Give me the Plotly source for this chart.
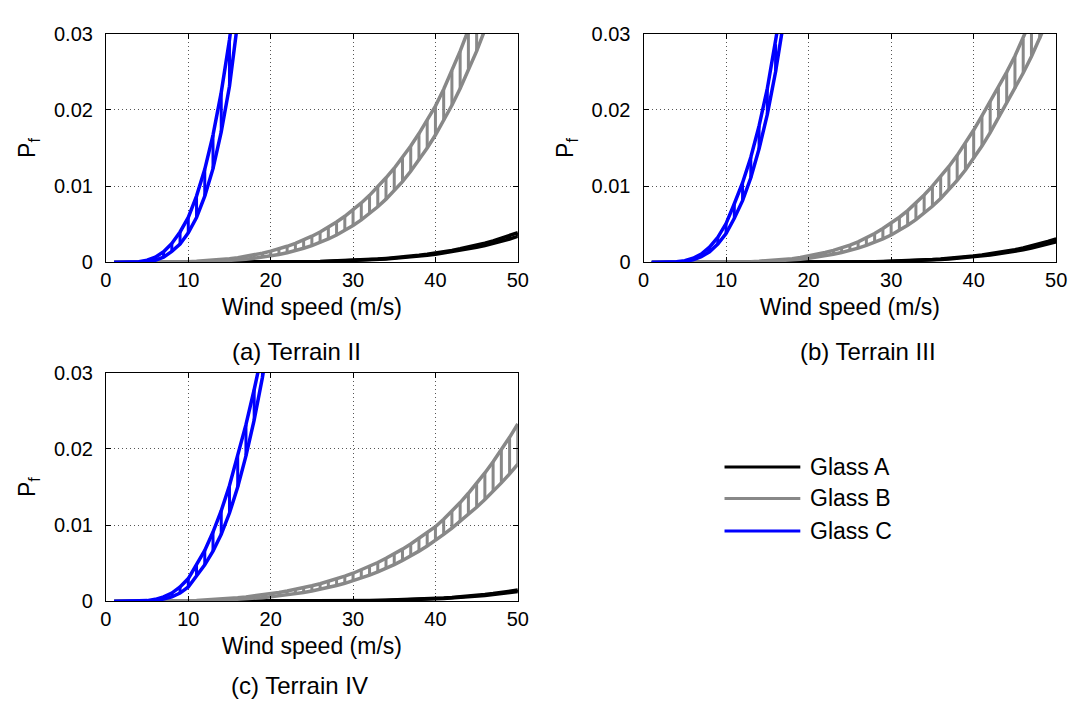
import plotly.graph_objects as go

# ---------------- data ----------------
wind_speed = list(range(1, 51))
x_ticks = [0, 10, 20, 30, 40, 50]
y_ticks = [0, 0.01, 0.02, 0.03]
y_tick_text = ["0", "0.01", "0.02", "0.03"]
panel_captions = ["(a) Terrain II", "(b) Terrain III", "(c) Terrain IV"]
glass_names = ["Glass A", "Glass B", "Glass C"]

# (a) Terrain II  -- upper / lower bound of Pf
a_glassA_hi = [0,0,0,0,0,0,0,0,0,0, 0,0,0,0,0.000005,0.00001,0.00001,0.00002,0.00002,0.00003,
               0.00004,0.00005,0.00006,0.00008,0.00011,0.00013,0.00016,0.00019,0.00023,0.00027,
               0.00032,0.00038,0.00045,0.00053,0.00061,0.00071,0.00082,0.00094,0.00107,0.00122,
               0.0014,0.00158,0.00179,0.00201,0.00225,0.00253,0.00283,0.00315,0.0035,0.0039]
a_glassA_lo = [0,0,0,0,0,0,0,0,0,0, 0,0,0,0,0,0.00001,0.00001,0.00001,0.00002,0.00003,
               0.00003,0.00004,0.00005,0.00007,0.00009,0.00011,0.00014,0.00017,0.0002,0.00024,
               0.00028,0.00033,0.00039,0.00046,0.00054,0.00062,0.00072,0.00083,0.00094,0.00107,
               0.00123,0.00139,0.00158,0.00177,0.00198,0.00223,0.00249,0.00277,0.00308,0.00343]
a_glassB_hi = [0,0,0,0,0.00001,0.00001,0.00002,0.00004,0.00007,0.00011,
               0.00015,0.00021,0.00029,0.00038,0.00049,0.00063,0.0008,0.00099,0.00121,0.00148,
               0.00178,0.00212,0.00251,0.00295,0.00344,0.004,0.00461,0.0053,0.00605,0.00688,
               0.0078,0.0088,0.00989,0.0111,0.01236,0.01376,0.01527,0.0169,0.01866,0.0205,
               0.0227,0.0251,0.0277,0.0305,0.0335,0.0367,0.040,0.044,0.048,0.052]
a_glassB_lo = [0,0,0,0,0,0,0.00001,0.00001,0.00003,0.00004,
               0.00007,0.00009,0.00013,0.00018,0.00025,0.00032,0.00042,0.00054,0.00068,0.00085,
               0.00105,0.00128,0.00155,0.00186,0.00221,0.00262,0.00308,0.0036,0.00419,0.00485,
               0.00558,0.0064,0.0073,0.0083,0.0094,0.0106,0.01195,0.0134,0.015,0.0167,
               0.0186,0.0206,0.0228,0.0252,0.0277,0.0305,0.0334,0.0365,0.040,0.043]
a_glassC_hi = [0,0.00001,0.00003,0.0001,0.0003,0.0007,0.0014,0.0025,0.004,0.0059,
               0.0087,0.0122,0.0167,0.0223,0.0292,0.0375]
a_glassC_lo = [0,0,0.00001,0.00004,0.00012,0.0003,0.0007,0.00145,0.0024,0.0039,
               0.0059,0.0087,0.0123,0.0171,0.0231,0.0307,0.040]

# (b) Terrain III
b_glassA_hi = [0,0,0,0,0,0,0,0,0,0, 0,0,0,0,0,0,0,0.00001,0.00001,0.00002,
               0.00002,0.00003,0.00004,0.00005,0.00006,0.00007,0.00009,0.00011,0.00013,0.00016,
               0.00019,0.00023,0.00028,0.00033,0.00039,0.00046,0.00054,0.00063,0.00073,0.00085,
               0.00098,0.00113,0.0013,0.00148,0.00168,0.00191,0.00217,0.00245,0.00276,0.0031]
b_glassA_lo = [0,0,0,0,0,0,0,0,0,0, 0,0,0,0,0,0,0,0,0,0.00001,
               0.00002,0.00003,0.00003,0.00004,0.00005,0.00006,0.00008,0.00009,0.00011,0.00014,
               0.00017,0.0002,0.00024,0.00029,0.00034,0.0004,0.00047,0.00055,0.00064,0.00074,
               0.00085,0.00098,0.00113,0.00129,0.00146,0.00166,0.00189,0.00213,0.0024,0.0027]
b_glassB_hi = [0,0,0,0,0,0.00001,0.00001,0.00001,0.00002,0.00003,
               0.00005,0.00007,0.00011,0.00016,0.00022,0.0003,0.00039,0.0005,0.00064,0.00083,
               0.00103,0.0013,0.00158,0.0019,0.00228,0.0027,0.00323,0.00379,0.00446,0.00515,
               0.00593,0.0068,0.0078,0.00885,0.01,0.01124,0.01258,0.01404,0.01564,0.01736,
               0.01922,0.02107,0.02295,0.02495,0.02707,0.02932,0.0317,0.0342,0.0368,0.0395]
b_glassB_lo = [0,0,0,0,0,0,0,0.00001,0.00001,0.00002,
               0.00003,0.00004,0.00007,0.0001,0.00014,0.00018,0.00025,0.00032,0.00041,0.00054,
               0.00068,0.00085,0.00107,0.0013,0.00157,0.00188,0.00223,0.00264,0.0031,0.0036,
               0.00422,0.00488,0.00562,0.00645,0.00737,0.00839,0.00952,0.01076,0.01212,0.01361,
               0.01525,0.01703,0.01897,0.0209,0.0228,0.02483,0.02699,0.02927,0.0317,0.0343]
b_glassC_hi = [0,0,0.00002,0.00008,0.00022,0.00055,0.0011,0.002,0.0033,0.0051,
               0.0077,0.01045,0.0138,0.0179,0.0228,0.0286,0.0354]
b_glassC_lo = [0,0,0.00001,0.00004,0.00013,0.00035,0.00075,0.0014,0.0024,0.0038,
               0.0058,0.0081,0.0111,0.0149,0.0194,0.025,0.0317,0.0396]

# (c) Terrain IV
c_glassA_hi = [0,0,0,0,0,0,0,0,0,0, 0,0,0,0,0,0,0,0,0,0,
               0.00001,0.00001,0.00001,0.00002,0.00002,0.00003,0.00004,0.00005,0.00006,0.00007,
               0.00009,0.0001,0.00012,0.00015,0.00018,0.00021,0.00025,0.00029,0.00034,0.00039,
               0.00046,0.00053,0.0006,0.0007,0.0008,0.00091,0.00103,0.00117,0.00133,0.0015]
c_glassA_lo = [0,0,0,0,0,0,0,0,0,0, 0,0,0,0,0,0,0,0,0,0,
               0,0,0.00001,0.00001,0.00002,0.00003,0.00003,0.00004,0.00005,0.00006,
               0.00008,0.00009,0.00011,0.00013,0.00015,0.00018,0.00022,0.00025,0.0003,0.00034,
               0.0004,0.00046,0.00052,0.00061,0.0007,0.00079,0.0009,0.00102,0.00116,0.0013]
c_glassB_hi = [0,0,0,0.00001,0.00001,0.00002,0.00003,0.00004,0.00006,0.00009,
               0.00013,0.00018,0.00024,0.00031,0.00039,0.00048,0.00059,0.00071,0.00085,0.001,
               0.00117,0.00136,0.00157,0.0018,0.00206,0.00233,0.00264,0.00297,0.00332,0.0037,
               0.00414,0.0046,0.00511,0.00566,0.00624,0.00686,0.00753,0.00825,0.009,0.0098,
               0.01078,0.01184,0.01297,0.01419,0.01548,0.01686,0.01832,0.01988,0.02153,0.02329]
c_glassB_lo = [0,0,0,0,0,0.00001,0.00001,0.00002,0.00003,0.00004,
               0.00006,0.00008,0.00011,0.00015,0.0002,0.00026,0.00033,0.00041,0.0005,0.0006,
               0.00072,0.00085,0.00101,0.00118,0.00137,0.00159,0.00183,0.00209,0.00238,0.0027,
               0.00306,0.00345,0.00387,0.00433,0.00484,0.00538,0.00596,0.0066,0.00728,0.00801,
               0.00879,0.00963,0.01051,0.01141,0.01236,0.01337,0.01443,0.01555,0.01674,0.018]
c_glassC_hi = [0,0,0.00001,0.00004,0.00011,0.00028,0.0006,0.0011,0.0019,0.003,
               0.0048,0.0067,0.0091,0.0119,0.0152,0.0191,0.0232,0.0278,0.0328]
c_glassC_lo = [0,0,0,0.00001,0.00005,0.00013,0.0003,0.0006,0.0011,0.0019,
               0.0033,0.0048,0.0066,0.0088,0.0116,0.015,0.0191,0.0238,0.0294,0.0359]

# ---------------- styling ----------------
W, H = 1081, 711
FONT = "Liberation Sans, Arial, sans-serif"
glass_colors = ["#000000", "#888888", "#0000ff"]
LINE_W = 3.5
HATCH_W = 3

panels = [
    dict(x="x", y="y", data=[(a_glassA_hi, a_glassA_lo), (a_glassB_hi, a_glassB_lo), (a_glassC_hi, a_glassC_lo)]),
    dict(x="x2", y="y2", data=[(b_glassA_hi, b_glassA_lo), (b_glassB_hi, b_glassB_lo), (b_glassC_hi, b_glassC_lo)]),
    dict(x="x3", y="y3", data=[(c_glassA_hi, c_glassA_lo), (c_glassB_hi, c_glassB_lo), (c_glassC_hi, c_glassC_lo)]),
]

# pixel boxes of the three axes (left, right, top, bottom)
boxes = [(101.5, 520, 23.3, 259.5), (647.7, 1067, 23.3, 259.5), (101.5, 520, 373.3, 609.3)]

fig = go.Figure()

for p in panels:
    for gi, (hi, lo) in enumerate(p["data"]):
        col = glass_colors[gi]
        # hatch: vertical connectors between bounds at every wind speed
        n = min(len(hi), len(lo))
        hx, hy = [], []
        for i in range(n):
            hx += [wind_speed[i], wind_speed[i], None]
            hy += [lo[i], hi[i], None]
        fig.add_trace(go.Scatter(x=hx, y=hy, mode="lines", xaxis=p["x"], yaxis=p["y"],
                                 line=dict(color=col, width=HATCH_W), showlegend=False,
                                 hoverinfo="skip"))
        for series in (hi, lo):
            fig.add_trace(go.Scatter(x=wind_speed[:len(series)], y=series, mode="lines",
                                     xaxis=p["x"], yaxis=p["y"], name=glass_names[gi],
                                     line=dict(color=col, width=LINE_W), showlegend=False))

axis_common = dict(
    showline=True, linecolor="black", linewidth=1, mirror="ticks",
    ticks="inside", ticklen=5, tickcolor="black", tickwidth=1,
    showgrid=True, gridcolor="#555555", griddash="1px,3px", gridwidth=1,
    zeroline=False, tickfont=dict(family=FONT, size=20, color="black"),
)

layout = dict(width=W, height=H, margin=dict(l=0, r=0, t=0, b=0),
              paper_bgcolor="white", plot_bgcolor="white",
              font=dict(family=FONT, color="black"), showlegend=False)

for k, (l, r, t, b) in enumerate(boxes):
    sfx = "" if k == 0 else str(k + 1)
    layout["xaxis" + sfx] = dict(
        axis_common, domain=[l / W, r / W], range=[0, 50], tickvals=x_ticks,
        anchor="y" + sfx, ticklabelstandoff=0,
        title=dict(text="Wind speed (m/s)", font=dict(family=FONT, size=23), standoff=8))
    layout["yaxis" + sfx] = dict(
        axis_common, domain=[1 - b / H, 1 - t / H], range=[0, 0.03],
        tickvals=y_ticks, ticktext=y_tick_text, anchor="x" + sfx, ticklabelstandoff=8,
        title=dict(text="P<sub>f</sub>", font=dict(family=FONT, size=23), standoff=11))

fig.update_layout(**layout)

# captions
cap_pos = [(295, 351), (876, 351), (298, 696)]
for (cx, cy), txt in zip(cap_pos, panel_captions):
    fig.add_annotation(x=cx / W, y=1 - cy / H, xref="paper", yref="paper", text=txt,
                       showarrow=False, font=dict(family=FONT, size=24, color="black"),
                       xanchor="center", yanchor="middle")

# legend (drawn manually to match long sample lines)
leg_y = [470.5, 503, 536.5]
for gi, ly in enumerate(leg_y):
    fig.add_shape(type="line", xref="paper", yref="paper",
                  x0=730 / W, x1=807 / W, y0=1 - ly / H, y1=1 - ly / H,
                  line=dict(color=glass_colors[gi], width=3))
    fig.add_annotation(x=815 / W, y=1 - ly / H, xref="paper", yref="paper",
                       text=glass_names[gi], showarrow=False, xanchor="left", yanchor="middle",
                       font=dict(family=FONT, size=23, color="black"))

fig.write_html("out.html", config={"displayModeBar": False},
               post_script="document.body.style.margin='0px';document.body.style.overflow='hidden';")
